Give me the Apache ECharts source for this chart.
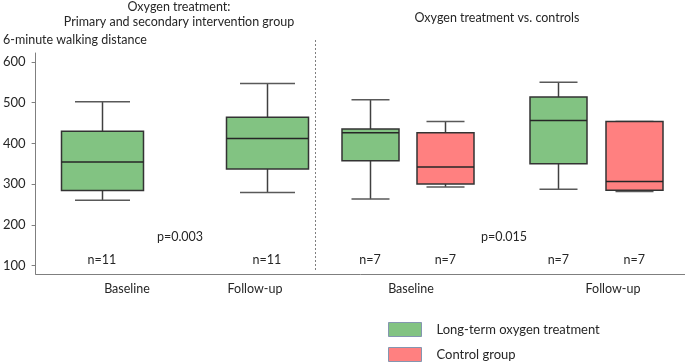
<!DOCTYPE html>
<html>
<head>
<meta charset="utf-8">
<script src="https://cdn.jsdelivr.net/npm/echarts@6/dist/echarts.min.js"></script>
<style>
  html, body { margin: 0; padding: 0; background: #fff; }
  #chart { width: 685px; height: 363px; }
</style>
</head>
<body>
<div id="chart"></div>
<script>
// box stats: [min, Q1, median, Q3, max]
const interventionStats = [
  [260, 284, 354, 430, 502],
  [279, 337, 412, 464, 547],
];
const oxygenStats = [
  [263, 357, 426, 435, 507],
  [287, 350, 456, 514, 550],
];
const controlStats = [
  [293, 300, 342, 426, 454],
  [282, 285, 306, 454, 454],
];
// x positions of the boxes on the (hidden) value axis
const interventionX = [10.2, 35.6];
const oxygenX = [51.5, 80.5];
const controlX = [63.1, 92.2];
const interventionN = ['n=11', 'n=11'];
const oxygenN = ['n=7', 'n=7'];
const controlN = ['n=7', 'n=7'];
const pValues = ['p=0.003', 'p=0.015'];
const timepoints = ['Baseline', 'Follow-up'];
const yTicks = [100, 200, 300, 400, 500, 600];

const FONT = 'Lato';
const TXT = '#262626';

const toRows = (xs, stats) => stats.map((s, i) => [xs[i]].concat(s));

function boxRenderer(boxW, capW) {
  return function (params, api) {
    const x = api.value(0);
    const pMin = api.coord([x, api.value(1)]);
    const pQ1 = api.coord([x, api.value(2)]);
    const pMed = api.coord([x, api.value(3)]);
    const pQ3 = api.coord([x, api.value(4)]);
    const pMax = api.coord([x, api.value(5)]);
    const cx = Math.round(pMin[0]) + 0.5;
    const hw = boxW / 2;
    const hc = capW / 2;
    const whisker = { stroke: '#404040', lineWidth: 1.5 };
    const cap = { stroke: '#595959', lineWidth: 1.5 };
    return {
      type: 'group',
      children: [
        { type: 'line', shape: { x1: cx, y1: pMax[1], x2: cx, y2: pQ3[1] }, style: whisker },
        { type: 'line', shape: { x1: cx, y1: pQ1[1], x2: cx, y2: pMin[1] }, style: whisker },
        { type: 'line', shape: { x1: cx - hc, y1: pMax[1], x2: cx + hc, y2: pMax[1] }, style: cap },
        { type: 'line', shape: { x1: cx - hc, y1: pMin[1], x2: cx + hc, y2: pMin[1] }, style: cap },
        {
          type: 'rect',
          shape: { x: cx - hw, y: pQ3[1], width: boxW, height: pQ1[1] - pQ3[1] },
          style: { fill: api.visual('color'), stroke: '#333', lineWidth: 1.5 },
        },
        { type: 'line', shape: { x1: cx - hw, y1: pMed[1], x2: cx + hw, y2: pMed[1] }, style: { stroke: '#262626', lineWidth: 1.5 } },
      ],
    };
  };
}

function nLabels(xs, labels) {
  return {
    type: 'scatter',
    symbolSize: 1,
    silent: true,
    itemStyle: { opacity: 0 },
    data: xs.map((x, i) => ({ value: [x, 114], label: { formatter: labels[i] } })),
    label: { show: true, position: 'inside', color: TXT, opacity: 1, fontFamily: FONT, fontSize: 12.5 },
  };
}

const text = (t, x, y, align) => ({
  type: 'text', x, y,
  style: { text: t, fill: TXT, font: '12.5px ' + FONT, textAlign: align || 'center', textVerticalAlign: 'middle' },
});

const chart = echarts.init(document.getElementById('chart'));
chart.setOption({
  animation: false,
  grid: { left: 31, right: 0, top: 53, bottom: 89 },
  xAxis: {
    type: 'value', min: 0, max: 100,
    axisLine: { show: true, lineStyle: { color: '#7f7f7f', width: 1 } },
    axisTick: { show: false }, axisLabel: { show: false }, splitLine: { show: false },
  },
  yAxis: {
    type: 'value', min: 79, max: 622,
    axisLine: { show: true, lineStyle: { color: '#7f7f7f', width: 1 } },
    axisTick: { show: true, length: 4, customValues: yTicks, lineStyle: { color: '#7f7f7f' } },
    axisLabel: { customValues: yTicks, color: TXT, fontFamily: FONT, fontSize: 13, margin: 10 },
    splitLine: { show: false },
  },
  legend: {
    orient: 'vertical', left: 388, top: 322, padding: 0,
    itemWidth: 33, itemHeight: 14, itemGap: 10,
    textStyle: { color: TXT, fontFamily: FONT, fontSize: 13, padding: [0, 0, 0, 10] },
    data: [
      { name: 'Long-term oxygen treatment', icon: 'rect', itemStyle: { color: '#82c382', borderColor: '#8496b0', borderWidth: 1 } },
      { name: 'Control group', icon: 'rect', itemStyle: { color: '#ff8080', borderColor: '#8496b0', borderWidth: 1 } },
    ],
  },
  series: [
    {
      name: 'Long-term oxygen treatment', type: 'custom',
      itemStyle: { color: '#82c382' },
      encode: { x: 0, y: [1, 2, 3, 4, 5] },
      renderItem: boxRenderer(82, 55),
      data: toRows(interventionX, interventionStats),
    },
    {
      name: 'Long-term oxygen treatment', type: 'custom',
      itemStyle: { color: '#82c382' },
      encode: { x: 0, y: [1, 2, 3, 4, 5] },
      renderItem: boxRenderer(57, 38),
      data: toRows(oxygenX, oxygenStats),
    },
    {
      name: 'Control group', type: 'custom',
      itemStyle: { color: '#ff8080' },
      encode: { x: 0, y: [1, 2, 3, 4, 5] },
      renderItem: boxRenderer(57, 38),
      data: toRows(controlX, controlStats),
    },
    nLabels(interventionX, interventionN),
    nLabels(oxygenX, oxygenN),
    nLabels(controlX, controlN),
  ],
  graphic: [
    text('Oxygen treatment:', 179, 7),
    text('Primary and secondary intervention group', 179, 22),
    text('6-minute walking distance', 3, 40, 'left'),
    text('Oxygen treatment vs. controls', 497, 18),
    text(pValues[0], 180, 237),
    text(pValues[1], 504, 237),
    text(timepoints[0], 127, 289),
    text(timepoints[1], 255, 289),
    text(timepoints[0], 411, 289),
    text(timepoints[1], 613, 289),
    {
      type: 'line', shape: { x1: 315.5, y1: 40, x2: 315.5, y2: 272 },
      style: { stroke: '#7f7f7f', lineWidth: 1, lineDash: [2, 2] },
    },
  ],
});
</script>
</body>
</html>
